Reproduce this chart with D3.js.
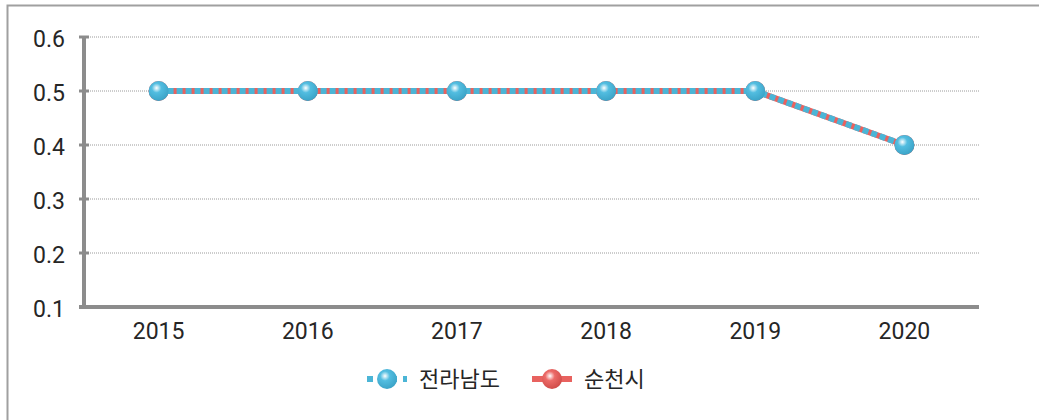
<!DOCTYPE html>
<html>
<head>
<meta charset="utf-8">
<script src="https://cdn.jsdelivr.net/npm/d3@7"></script>
<style>
  body { margin: 0; background: #fff; }
  text { font-family: Roboto, "Noto Sans CJK KR", sans-serif; fill: #262626; }
</style>
</head>
<body>
<div id="chart"></div>
<script>
// chart values
var years = ["2015", "2016", "2017", "2018", "2019", "2020"];
var jeonnam = [0.5, 0.5, 0.5, 0.5, 0.5, 0.4];
var suncheon = [0.5, 0.5, 0.5, 0.5, 0.5, 0.4];
var yTicks = [0.1, 0.2, 0.3, 0.4, 0.5, 0.6];
var seriesNames = ["전라남도", "순천시"];

var svgWidth = 1039;
var svgHeight = 420;

var blue = "#4bb5d6";
var red = "#e8625f";

var margin = { top: 37, bottom: 113, left: 84, right: 60 };
var width = svgWidth - margin.left - margin.right;
var height = svgHeight - margin.top - margin.bottom;

var svg = d3.select("#chart")
  .append("svg")
  .attr("width", svgWidth)
  .attr("height", svgHeight);

// gradients for the sphere markers
var defs = svg.append("defs");
function sphere(id, base, dark) {
  var g = defs.append("radialGradient")
    .attr("id", id)
    .attr("cx", "40%").attr("cy", "35%").attr("r", "68%");
  g.append("stop").attr("offset", "0%").attr("stop-color", "#ffffff");
  g.append("stop").attr("offset", "35%").attr("stop-color", base);
  g.append("stop").attr("offset", "100%").attr("stop-color", dark);
}
sphere("ballBlue", "#52bde0", "#3aa2c6");
sphere("ballRed", "#ec6a67", "#cf4a47");

// outer frame
svg.append("rect")
  .attr("x", 7.5).attr("y", 5.5)
  .attr("width", 1200).attr("height", 600)
  .attr("fill", "none")
  .attr("stroke", "#a0a0a0")
  .attr("stroke-width", 2);

var chartGroup = svg.append("g")
  .attr("transform", `translate(${margin.left}, ${margin.top})`);

var xScale = d3.scaleBand()
  .domain(years)
  .range([0, width]);

var yScale = d3.scaleLinear()
  .domain([0.1, 0.6])
  .range([height, 0]);

// gridlines
chartGroup.append("g").selectAll("line")
  .data(yTicks.slice(1))
  .enter()
  .append("line")
  .attr("x1", 0)
  .attr("x2", width)
  .attr("y1", d => yScale(d))
  .attr("y2", d => yScale(d))
  .attr("stroke", "#9a9a9a")
  .attr("stroke-width", 1)
  .attr("stroke-dasharray", "1,1");

// y axis
var yAxis = d3.axisLeft(yScale)
  .tickValues(yTicks)
  .tickFormat(d3.format(".1f"))
  .tickSize(0)
  .tickPadding(19);

var yg = chartGroup.append("g").call(yAxis);
yg.select(".domain").remove();
yg.selectAll("text").attr("font-size", "23px").attr("dy", "0.42em");

chartGroup.append("g").selectAll("line")
  .data(yTicks)
  .enter()
  .append("line")
  .attr("x1", -5).attr("x2", 5)
  .attr("y1", d => yScale(d))
  .attr("y2", d => yScale(d))
  .attr("stroke", "#8c8c8c")
  .attr("stroke-width", 3);

chartGroup.append("line")
  .attr("x1", 0).attr("x2", 0)
  .attr("y1", yScale(0.6)).attr("y2", height)
  .attr("stroke", "#8c8c8c")
  .attr("stroke-width", 4);

// x axis
var xAxis = d3.axisBottom(xScale).tickSize(0).tickPadding(16);
var xg = chartGroup.append("g")
  .attr("transform", `translate(0, ${height})`)
  .call(xAxis);
xg.select(".domain").remove();
xg.selectAll("text").attr("font-size", "23px");

chartGroup.append("line")
  .attr("x1", -5).attr("x2", width)
  .attr("y1", height).attr("y2", height)
  .attr("stroke", "#8c8c8c")
  .attr("stroke-width", 4);

// lines
var line = d3.line()
  .x((d, i) => xScale(years[i]) + xScale.bandwidth() / 2)
  .y(d => yScale(d));

chartGroup.append("path")
  .datum(suncheon)
  .attr("d", line)
  .attr("fill", "none")
  .attr("stroke", red)
  .attr("stroke-width", 6);

chartGroup.append("g").selectAll("circle")
  .data(suncheon)
  .enter()
  .append("circle")
  .attr("cx", (d, i) => xScale(years[i]) + xScale.bandwidth() / 2)
  .attr("cy", d => yScale(d))
  .attr("r", 10)
  .attr("fill", "url(#ballRed)");

chartGroup.append("path")
  .datum(jeonnam)
  .attr("d", line)
  .attr("fill", "none")
  .attr("stroke", blue)
  .attr("stroke-width", 6)
  .attr("stroke-dasharray", "6,3");

chartGroup.append("g").selectAll("circle")
  .data(jeonnam)
  .enter()
  .append("circle")
  .attr("cx", (d, i) => xScale(years[i]) + xScale.bandwidth() / 2)
  .attr("cy", d => yScale(d))
  .attr("r", 10)
  .attr("fill", "url(#ballBlue)");

// legend
var legend = svg.append("g").attr("transform", "translate(0, 379)");
var legendItems = [
  { name: seriesNames[0], color: blue, ball: "ballBlue", dash: "6,6", x: 367 },
  { name: seriesNames[1], color: red, ball: "ballRed", dash: null, x: 532 }
];
legendItems.forEach(function(item) {
  legend.append("line")
    .attr("x1", item.x).attr("x2", item.x + 40)
    .attr("y1", 0).attr("y2", 0)
    .attr("stroke", item.color)
    .attr("stroke-width", 6)
    .attr("stroke-dasharray", item.dash);
  legend.append("circle")
    .attr("cx", item.x + 20).attr("cy", 0)
    .attr("r", 10)
    .attr("fill", `url(#${item.ball})`);
  legend.append("text")
    .attr("x", item.x + 52)
    .attr("y", 0)
    .attr("dy", "0.36em")
    .attr("font-size", "22px")
    .text(item.name);
});
</script>
</body>
</html>
